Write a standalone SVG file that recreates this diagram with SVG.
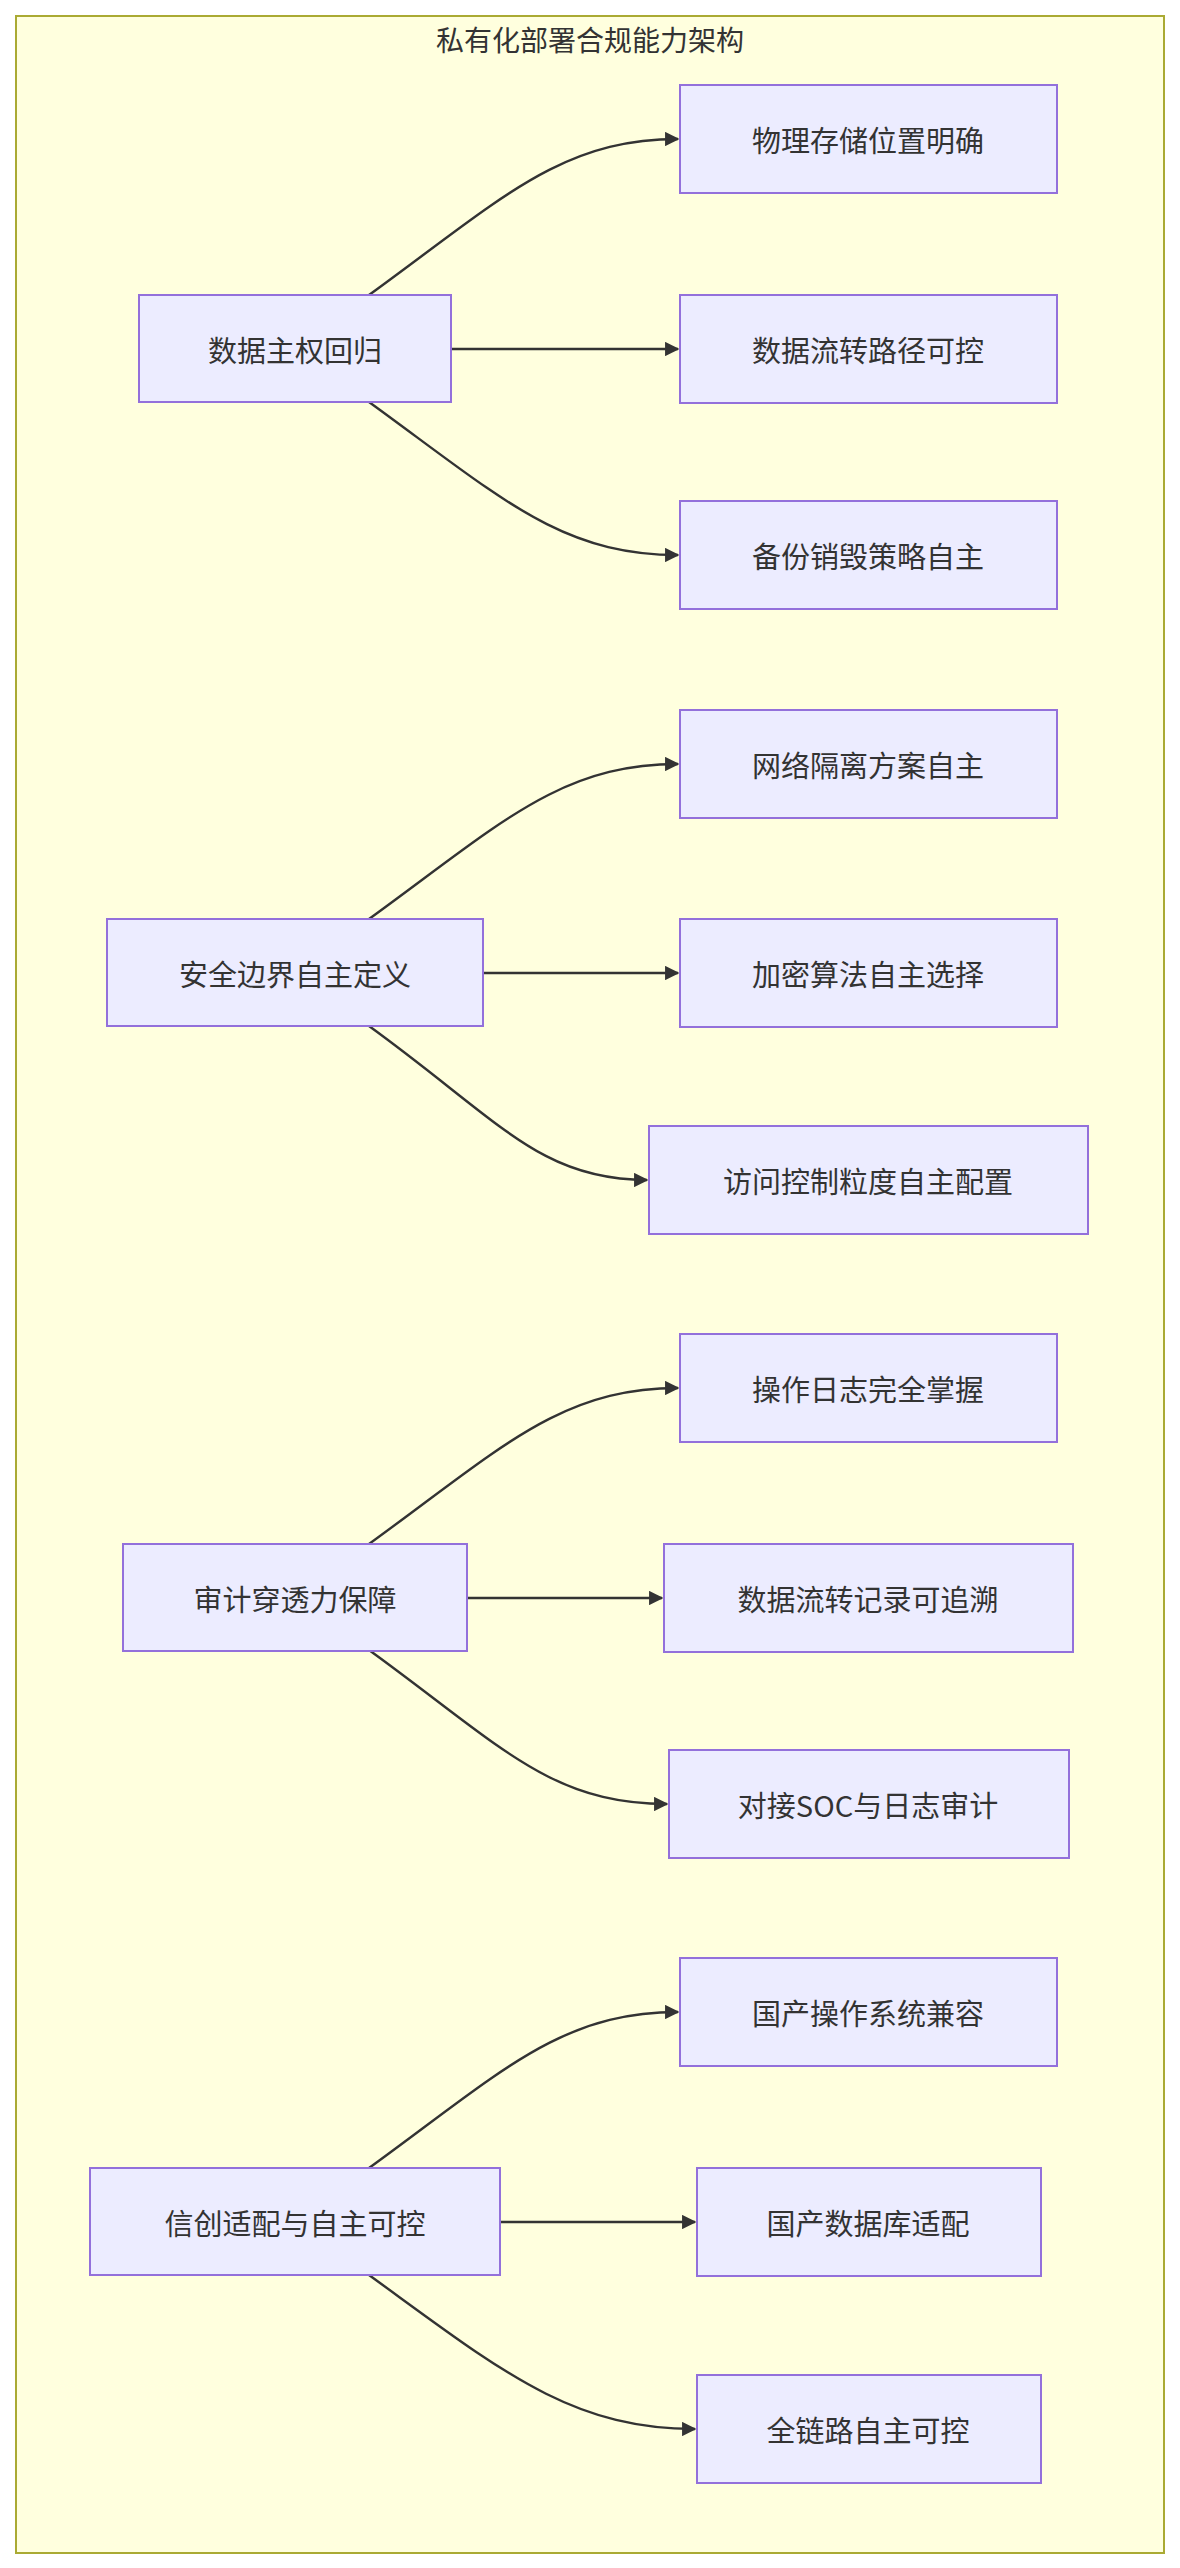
<svg xmlns="http://www.w3.org/2000/svg" width="1180" height="2568" viewBox="0 0 1180 2568">
<style>
.n rect{fill:#ECECFF;stroke:#9370DB;stroke-width:2}
text{font-family:"Noto Sans CJK SC","Noto Sans",sans-serif;font-size:29px;fill:#333;text-anchor:middle;dominant-baseline:central}
.e path{fill:none;stroke:#333;stroke-width:2.4;marker-end:url(#a)}
</style>
<defs><marker id="a" viewBox="0 0 10 10" refX="9" refY="5" markerWidth="6" markerHeight="6" orient="auto"><path d="M0,0L10,5L0,10z" fill="#333"/></marker></defs>
<rect x="16" y="16" width="1148" height="2537" fill="#ffffde" stroke="#aaaa33" stroke-width="2"/>
<text x="590" y="39" style="font-size:28px">私有化部署合规能力架构</text>
<g class="e">
<path d="M369,295 C500,200 560,139 678,139"/><path d="M451,349 L678,349"/><path d="M369,402 C500,497 560,555 678,555"/>
<path d="M369,919 C500,824 560,764 678,764"/><path d="M483,973 L678,973"/><path d="M369,1026 C500,1121 540,1180 647,1180"/>
<path d="M369,1544 C500,1449 560,1388 678,1388"/><path d="M467,1598 L662,1598"/><path d="M369,1650 C500,1745 550,1804 667,1804"/>
<path d="M369,2168 C500,2073 560,2012 678,2012"/><path d="M500,2222 L695,2222"/><path d="M369,2275 C500,2370 570,2429 695,2429"/>
</g>
<g id="A" class="n"><rect x="139" y="295" width="312" height="107"/><text x="295" y="349">数据主权回归</text></g>
<g id="B" class="n"><rect x="107" y="919" width="376" height="107"/><text x="295" y="973">安全边界自主定义</text></g>
<g id="C" class="n"><rect x="123" y="1544" width="344" height="107"/><text x="295" y="1598">审计穿透力保障</text></g>
<g id="D" class="n"><rect x="90" y="2168" width="410" height="107"/><text x="295" y="2222">信创适配与自主可控</text></g>
<g id="A1" class="n"><rect x="680" y="85" width="377" height="108"/><text x="868" y="139">物理存储位置明确</text></g>
<g id="A2" class="n"><rect x="680" y="295" width="377" height="108"/><text x="868" y="349">数据流转路径可控</text></g>
<g id="A3" class="n"><rect x="680" y="501" width="377" height="108"/><text x="868" y="555">备份销毁策略自主</text></g>
<g id="B1" class="n"><rect x="680" y="710" width="377" height="108"/><text x="868" y="764">网络隔离方案自主</text></g>
<g id="B2" class="n"><rect x="680" y="919" width="377" height="108"/><text x="868" y="973">加密算法自主选择</text></g>
<g id="B3" class="n"><rect x="649" y="1126" width="439" height="108"/><text x="868" y="1180">访问控制粒度自主配置</text></g>
<g id="C1" class="n"><rect x="680" y="1334" width="377" height="108"/><text x="868" y="1388">操作日志完全掌握</text></g>
<g id="C2" class="n"><rect x="664" y="1544" width="409" height="108"/><text x="868" y="1598">数据流转记录可追溯</text></g>
<g id="C3" class="n"><rect x="669" y="1750" width="400" height="108"/><text x="868" y="1804">对接SOC与日志审计</text></g>
<g id="D1" class="n"><rect x="680" y="1958" width="377" height="108"/><text x="868" y="2012">国产操作系统兼容</text></g>
<g id="D2" class="n"><rect x="697" y="2168" width="344" height="108"/><text x="868" y="2222">国产数据库适配</text></g>
<g id="D3" class="n"><rect x="697" y="2375" width="344" height="108"/><text x="868" y="2429">全链路自主可控</text></g>
</svg>
